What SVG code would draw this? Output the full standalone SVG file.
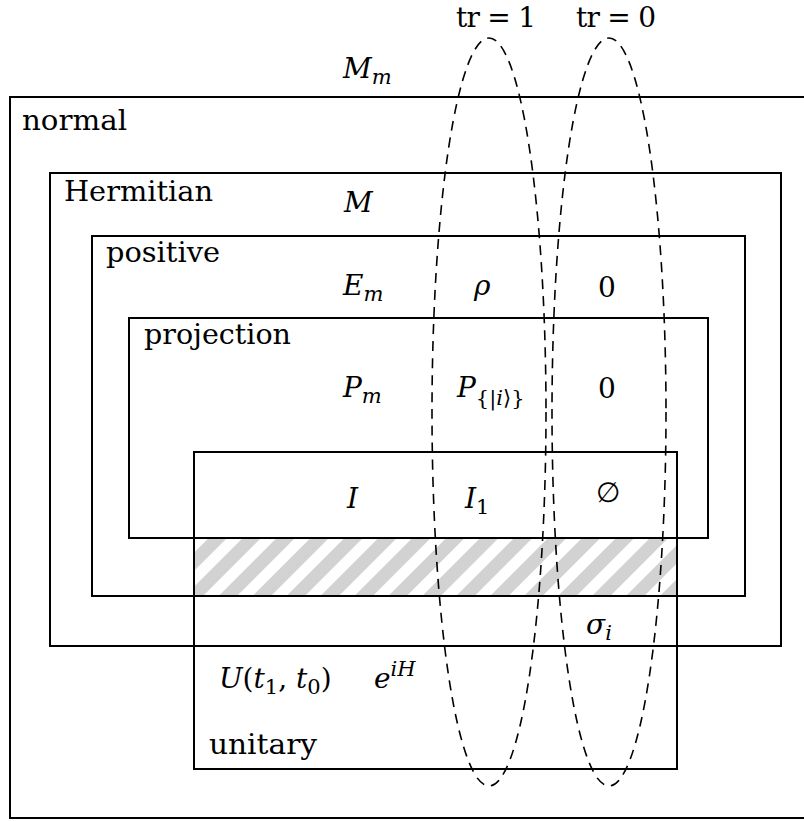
<svg xmlns="http://www.w3.org/2000/svg" width="804" height="821" viewBox="0 0 804 821">
<style>
.box{fill:none;stroke:#000;stroke-width:2}
.ell{fill:none;stroke:#000;stroke-width:1.6;stroke-dasharray:10 7}
.mi{font-style:italic}
.sub{font-size:21px}
</style>
<defs>
<pattern id="hatch" patternUnits="userSpaceOnUse" width="24" height="24" patternTransform="rotate(45)">
<rect x="0" y="0" width="13" height="24" fill="#d2d2d2"/>
</pattern>
</defs>
<rect width="804" height="821" fill="#fff"/>
<g font-family="'DejaVu Serif', 'Liberation Serif', serif" font-size="28" fill="#000">
<g id="hatched-region"><rect x="194" y="538" width="483" height="58" fill="url(#hatch)"/></g>
<g id="normal"><path class="box" d="M806,97 H10 V818 H806"/><text x="22" y="130" textLength="105" lengthAdjust="spacingAndGlyphs">normal</text></g>
<g id="hermitian"><rect class="box" x="50" y="173" width="731" height="473"/><text x="64" y="201" textLength="149" lengthAdjust="spacingAndGlyphs">Hermitian</text></g>
<g id="positive"><rect class="box" x="92" y="236" width="653" height="360"/><text x="106" y="262" textLength="114" lengthAdjust="spacingAndGlyphs">positive</text></g>
<g id="projection"><rect class="box" x="129" y="318" width="579" height="220"/><text x="144" y="344" textLength="147" lengthAdjust="spacingAndGlyphs">projection</text></g>
<g id="unitary"><rect class="box" x="194" y="452" width="483" height="317"/><text x="209" y="754" textLength="108" lengthAdjust="spacingAndGlyphs">unitary</text></g>
<g id="trace-sets">
<ellipse class="ell" cx="489" cy="412" rx="57" ry="374"/>
<ellipse class="ell" cx="609" cy="412" rx="57" ry="374"/>
<text x="456" y="27" textLength="80" lengthAdjust="spacing">tr = 1</text>
<text x="576" y="27" textLength="80" lengthAdjust="spacing">tr = 0</text>
</g>
<g id="elements">
<text x="343" y="78"><tspan class="mi">M</tspan><tspan class="mi sub" dy="6">m</tspan></text>
<text x="344" y="212" class="mi">M</text>
<text x="343" y="295"><tspan class="mi">E</tspan><tspan class="mi sub" dy="6">m</tspan></text>
<text x="474" y="295" class="mi">ρ</text>
<text x="598" y="297">0</text>
<text x="343" y="397"><tspan class="mi">P</tspan><tspan class="mi sub" dy="6">m</tspan></text>
<text x="457" y="397"><tspan class="mi">P</tspan><tspan class="sub" dy="8">{|</tspan><tspan class="sub mi">i</tspan><tspan class="sub">⟩}</tspan></text>
<text x="598" y="398">0</text>
<text x="347" y="508" class="mi">I</text>
<text x="465" y="508"><tspan class="mi">I</tspan><tspan class="sub" dy="6">1</tspan></text>
<text x="596" y="502">∅</text>
<text x="586" y="634"><tspan class="mi">σ</tspan><tspan class="mi sub" dy="6">i</tspan></text>
<text x="219" y="688"><tspan class="mi">U</tspan><tspan>(</tspan><tspan class="mi">t</tspan><tspan class="sub" dy="6">1</tspan><tspan dy="-6">, </tspan><tspan class="mi">t</tspan><tspan class="sub" dy="6">0</tspan><tspan dy="-6">)</tspan></text>
<text x="374" y="688"><tspan class="mi">e</tspan><tspan class="mi sub" dy="-12">iH</tspan></text>
</g>
</g>
</svg>
